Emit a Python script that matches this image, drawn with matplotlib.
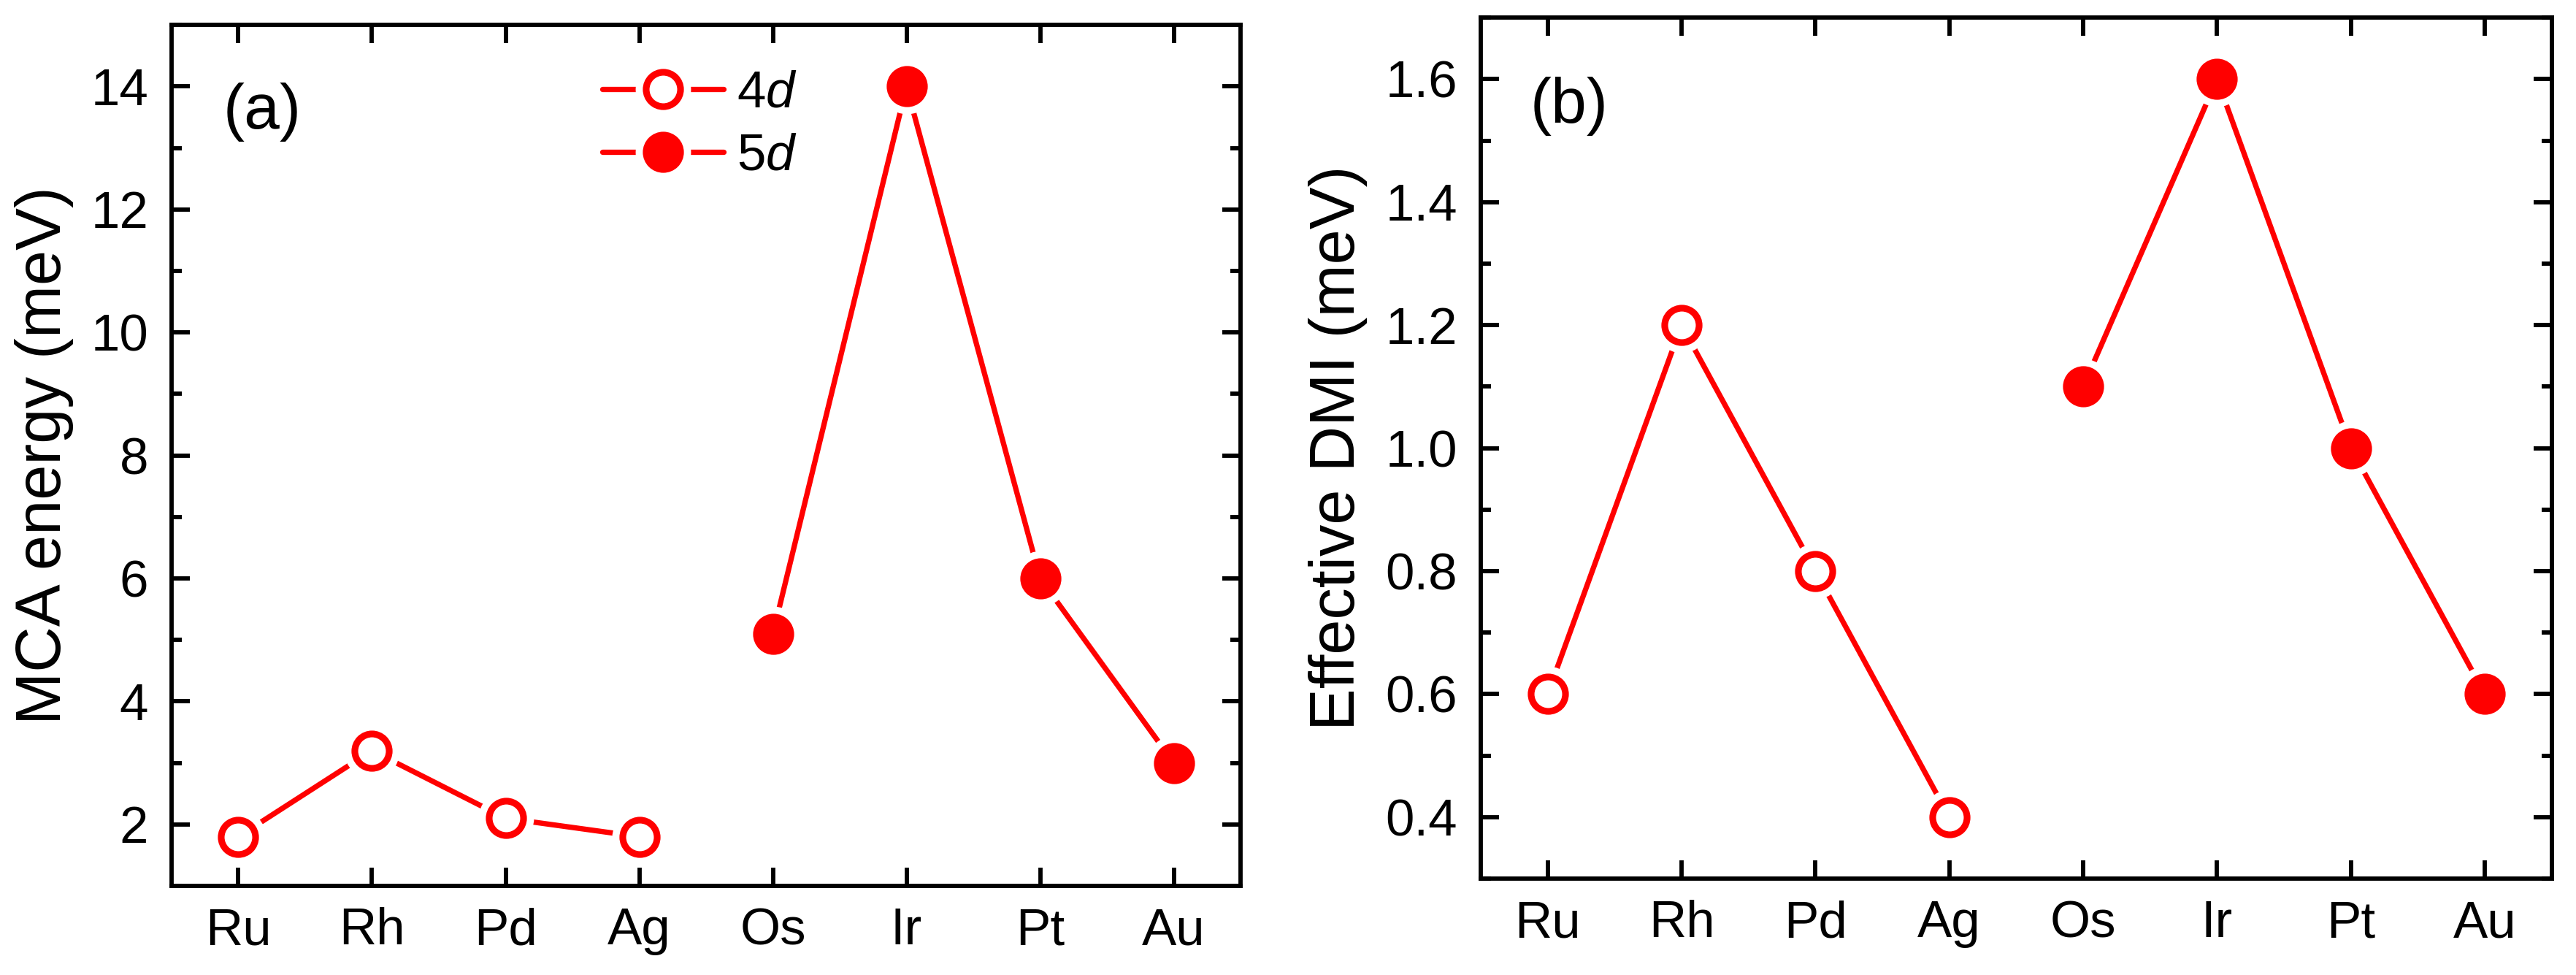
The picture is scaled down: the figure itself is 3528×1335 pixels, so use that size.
import matplotlib
matplotlib.use('Agg')
import matplotlib.pyplot as plt
from matplotlib.ticker import MultipleLocator, FormatStrFormatter
from matplotlib.lines import Line2D

# ---- data ----
elements = ['Ru', 'Rh', 'Pd', 'Ag', 'Os', 'Ir', 'Pt', 'Au']
elements_4d = ['Ru', 'Rh', 'Pd', 'Ag']
elements_5d = ['Os', 'Ir', 'Pt', 'Au']
mca_4d = [1.8, 3.2, 2.1, 1.8]
mca_5d = [5.1, 14.0, 6.0, 3.0]
dmi_4d = [0.6, 1.2, 0.8, 0.4]
dmi_5d = [1.1, 1.6, 1.0, 0.6]

plt.rcParams['font.family'] = ['Liberation Sans', 'DejaVu Sans']
plt.rcParams['mathtext.fontset'] = 'custom'
plt.rcParams['mathtext.rm'] = 'Liberation Sans'
plt.rcParams['mathtext.it'] = 'Liberation Sans:italic'

RED = '#ff0000'
DPI = 300
fig = plt.figure(figsize=(3528 / DPI, 1335 / DPI), dpi=DPI)
ax_a = fig.add_axes([0.0666, 0.0914, 0.415, 0.883])
ax_b = fig.add_axes([0.5748, 0.0989, 0.4158, 0.883])

MS = 11.3
MEW = 2.2
HALO = 18.2
LW = 1.75
SPW = 1.4

x4 = [elements.index(e) for e in elements_4d]
x5 = [elements.index(e) for e in elements_5d]


def draw_series(ax, xs, ys, filled):
    ax.plot(xs, ys, '-', color=RED, lw=LW, solid_capstyle='round', zorder=2)
    ax.plot(xs, ys, 'o', ls='none', ms=HALO, mfc='white', mew=0, zorder=3)
    ax.plot(xs, ys, 'o', ls='none', ms=MS, mew=MEW, mec=RED,
            mfc=RED if filled else 'white', zorder=4)


def style(ax, ylabel, ylim, major, minor, label_x):
    ax.set_xlim(-0.5, 7.5)
    ax.set_ylim(*ylim)
    ax.set_xticks(range(len(elements)))
    ax.set_xticklabels(elements)
    ax.yaxis.set_major_locator(MultipleLocator(major))
    ax.yaxis.set_minor_locator(MultipleLocator(minor))
    for s in ax.spines.values():
        s.set_linewidth(SPW)
    ax.tick_params(axis='both', which='major', direction='in', length=6,
                   width=SPW, labelsize=17, top=True, right=True)
    ax.tick_params(axis='y', which='minor', direction='in', length=3.3,
                   width=SPW, right=True)
    ax.tick_params(axis='x', which='minor', bottom=False, top=False)
    ax.tick_params(axis='x', which='major', pad=7)
    ax.tick_params(axis='y', which='major', pad=7.6)
    ax.set_ylabel(ylabel, fontsize=20.8)
    ax.yaxis.set_label_coords(label_x, 0.5)


# ---- panel (a) ----
draw_series(ax_a, x4, mca_4d, False)
draw_series(ax_a, x5, mca_5d, True)
style(ax_a, 'MCA energy (meV)', (1, 15), 2, 1, -0.0915)
ax_a.yaxis.set_major_formatter(FormatStrFormatter('%d'))
ax_a.text(0.0485, 0.899, '(a)', transform=ax_a.transAxes, fontsize=21,
          ha='left', va='center')


def legend_handle(filled):
    line = Line2D([], [], color=RED, lw=LW, solid_capstyle='round')
    halo = Line2D([], [], marker='o', ls='none', ms=HALO, mfc='white', mew=0)
    mk = Line2D([], [], marker='o', ls='none', ms=MS, mew=MEW, mec=RED,
                mfc=RED if filled else 'white')
    return (line, halo, mk)


ax_a.legend([legend_handle(False), legend_handle(True)],
            ['4$\\mathit{d}$', '5$\\mathit{d}$'],
            loc='upper left', bbox_to_anchor=(0.403, 0.948),
            frameon=False, fontsize=17, handlelength=2.35,
            handletextpad=0.25, labelspacing=0.28, borderpad=0,
            borderaxespad=0)

# ---- panel (b) ----
draw_series(ax_b, x4, dmi_4d, False)
draw_series(ax_b, x5, dmi_5d, True)
style(ax_b, 'Effective DMI (meV)', (0.3, 1.7), 0.2, 0.1, -0.1057)
ax_b.yaxis.set_major_formatter(FormatStrFormatter('%.1f'))
ax_b.text(0.046, 0.897, '(b)', transform=ax_b.transAxes, fontsize=21,
          ha='left', va='center')

fig.savefig('out.png', dpi=DPI)
